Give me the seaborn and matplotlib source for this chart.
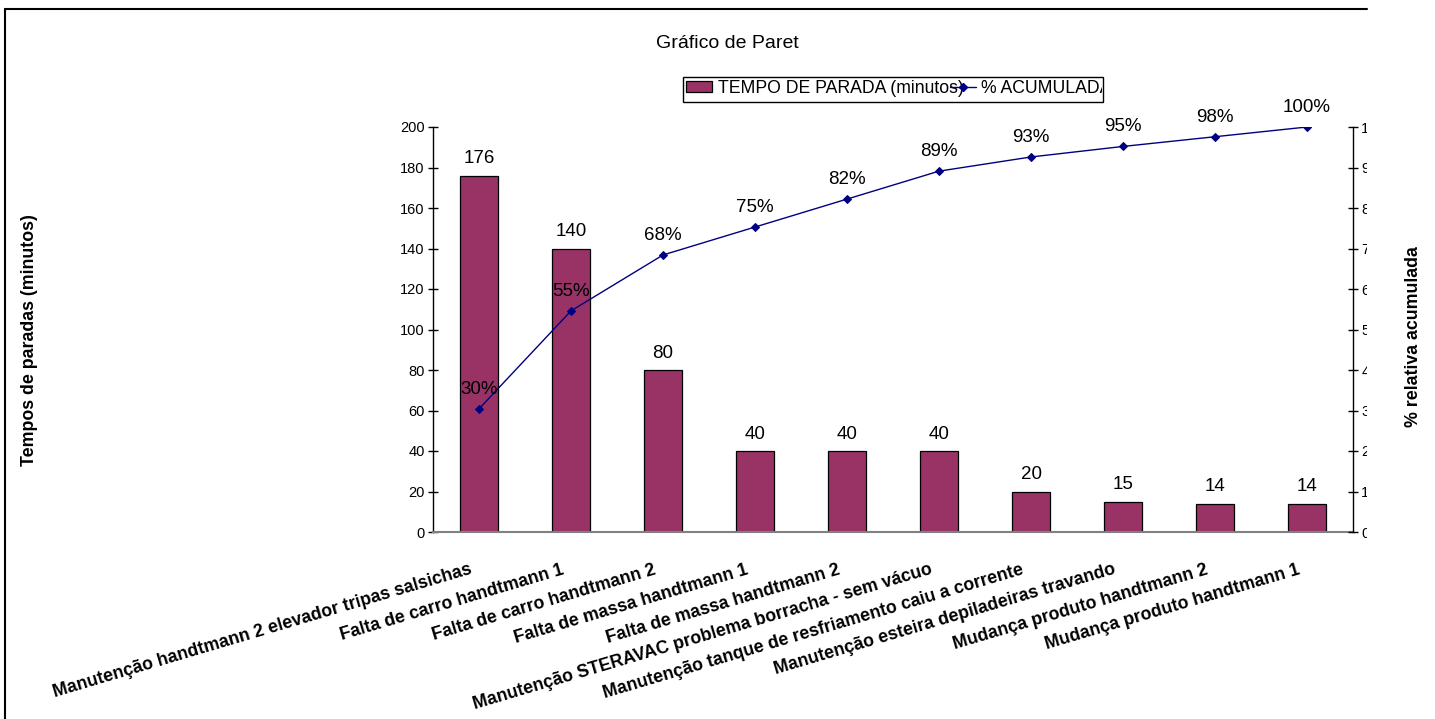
import numpy as np
import matplotlib
matplotlib.use("Agg")
import matplotlib.pyplot as plt
import seaborn as sns
from matplotlib.patches import Patch, Rectangle
from matplotlib.lines import Line2D
from matplotlib.transforms import Bbox, TransformedBbox, ScaledTranslation

# ---- data -------------------------------------------------------------
categories = [
    "Manutenção handtmann 2 elevador tripas salsichas",
    "Falta de carro handtmann 1",
    "Falta de carro handtmann 2",
    "Falta de massa handtmann 1",
    "Falta de massa handtmann 2",
    "Manutenção STERAVAC problema borracha - sem vácuo",
    "Manutenção tanque de resfriamento caiu a corrente",
    "Manutenção esteira depiladeiras travando",
    "Mudança produto handtmann 2",
    "Mudança produto handtmann 1",
]
minutes = [176, 140, 80, 40, 40, 40, 20, 15, 14, 14]
cumulative_pct = [30.4, 54.6, 68.4, 75.3, 82.2, 89.1, 92.6, 95.2, 97.6, 100.0]
left_ticks = list(range(0, 201, 20))
right_ticks = list(range(0, 101, 10))
right_tick_labels = [f"{t}%" for t in right_ticks]

BAR = "#993366"
LINE = "#000080"

sns.set_style("white")
plt.rcParams["font.family"] = ["Liberation Sans", "DejaVu Sans"]
plt.rcParams["text.color"] = "black"
plt.rcParams["axes.labelcolor"] = "black"
plt.rcParams["xtick.color"] = "black"
plt.rcParams["ytick.color"] = "black"

W, H, DPI = 1435, 719, 100
fig = plt.figure(figsize=(W / DPI, H / DPI), dpi=DPI)


def fx(px):
    return px / W


def fy(py):
    return 1 - py / H


ax = fig.add_axes([fx(433), fy(532), fx(1353) - fx(433), fy(127) - fy(532)])

# bars: stoppage time per cause
sns.barplot(x=categories, y=minutes, color=BAR, saturation=1, width=0.41,
            edgecolor="black", linewidth=0.9, ax=ax)
ax.bar_label(ax.containers[0], fmt="%d", padding=6, fontsize=13.5, color="black")

# cumulative percentage line on the secondary axis
ax2 = ax.twinx()
sns.pointplot(x=categories, y=cumulative_pct, color=LINE, markers="D",
              markersize=4.5, linewidth=1, errorbar=None, ax=ax2)
for i, p in enumerate(cumulative_pct):
    ax2.annotate(f"{p:.0f}%", (i, p), xytext=(0, 8), textcoords="offset points",
                 ha="center", va="bottom", fontsize=13.5, color="black")

n = len(categories)
ax.set_xlim(-0.5, n - 0.5)
ax.set_ylim(0, 200)
ax2.set_ylim(0, 100)

# x axis: ticks between categories, labels at the centres
ax.set_xticks(np.arange(n + 1) - 0.5)
ax.set_xticklabels([""] * (n + 1))
ax.set_xticks(np.arange(n), minor=True)
ax.set_xticklabels(categories, minor=True, rotation=16.5, ha="right",
                   rotation_mode="anchor", fontsize=12.8, fontweight="bold",
                   color="black")
ax.tick_params(axis="x", which="major", direction="inout", length=7, width=1,
               color="#333333")
ax.tick_params(axis="x", which="minor", length=0, pad=21)
shift = ScaledTranslation(-10 / DPI, 0, fig.dpi_scale_trans)
for lbl in ax.get_xticklabels(minor=True):
    lbl.set_transform(lbl.get_transform() + shift)
ax.set_xlabel("")
ax.set_ylabel("")
ax2.set_xlabel("")
ax2.set_ylabel("")

ax.set_yticks(left_ticks)
ax.tick_params(axis="y", direction="inout", length=7, width=1, labelsize=10.5,
               pad=2.5, color="black", labelcolor="black")
ax2.set_yticks(right_ticks)
ax2.set_yticklabels(right_tick_labels)
ax2.tick_params(axis="y", direction="inout", length=7, width=1, labelsize=10.5,
                pad=2.5, color="black", labelcolor="black")

# right tick labels are cut by the chart border
clip_right = TransformedBbox(Bbox.from_extents(0, 0, fx(1367), 1), fig.transFigure)
for lbl in ax2.get_yticklabels():
    lbl.set_clip_box(clip_right)
    lbl.set_clip_on(True)

for s in ("top", "right"):
    ax.spines[s].set_visible(False)
ax.spines["left"].set_color("black")
ax.spines["left"].set_linewidth(1)
ax.spines["bottom"].set_color("#808080")
ax.spines["bottom"].set_linewidth(1.5)
for s in ("top", "left", "bottom"):
    ax2.spines[s].set_visible(False)
ax2.spines["right"].set_color("black")
ax2.spines["right"].set_linewidth(1)
ax2.xaxis.set_visible(False)
ax.set_zorder(0)
ax2.set_zorder(1)
ax2.patch.set_visible(False)

# titles and axis labels
fig.text(fx(727), fy(43), "Gráfico de Paret", fontsize=14, ha="center", va="center")
fig.text(fx(30), fy(340), "Tempos de paradas (minutos)", rotation=90,
         ha="center", va="center", fontsize=12.8, fontweight="bold")
fig.text(fx(1413), fy(337), "% relativa acumulada", rotation=90,
         ha="center", va="center", fontsize=12.8, fontweight="bold")

# legend with a fixed frame that cuts the second entry
handles = [Patch(facecolor=BAR, edgecolor="black", linewidth=0.9),
           Line2D([], [], color=LINE, marker="D", markersize=4.5, linewidth=1)]
labels = ["TEMPO DE PARADA (minutos)", "% ACUMULADA"]
leg = fig.legend(handles, labels, ncol=2, loc="upper left",
                 bbox_to_anchor=(fx(683), fy(77)), frameon=False, fontsize=12.7,
                 handlelength=1.5, handleheight=0.6, handletextpad=0.3,
                 columnspacing=-0.8, borderpad=0.17, borderaxespad=0)
clip_leg = TransformedBbox(Bbox.from_extents(0, 0, fx(1102), 1), fig.transFigure)
for t in leg.get_texts():
    t.set_color("black")
    t.set_clip_box(clip_leg)
    t.set_clip_on(True)
fig.add_artist(Rectangle((fx(683), fy(102)), fx(1103) - fx(683), fy(77) - fy(102),
                         transform=fig.transFigure, fill=False,
                         edgecolor="black", linewidth=1))

# chart border (top and left edges)
fig.add_artist(Line2D([fx(5), fx(1367)], [fy(9), fy(9)], transform=fig.transFigure,
                      color="black", linewidth=1.5))
fig.add_artist(Line2D([fx(5), fx(5)], [fy(9), 0], transform=fig.transFigure,
                      color="black", linewidth=1.5))

fig.savefig("out.png", dpi=DPI)
